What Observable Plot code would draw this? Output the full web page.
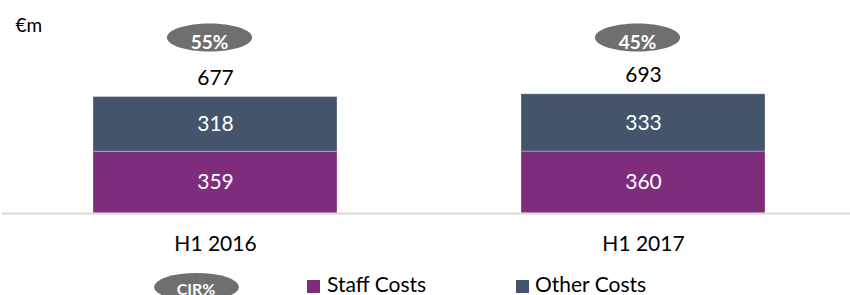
<!DOCTYPE html>
<html>
<head>
<meta charset="utf-8">
<script src="https://cdn.jsdelivr.net/npm/d3@7"></script>
<script src="https://cdn.jsdelivr.net/npm/@observablehq/plot@0.6"></script>
<style>
  body { margin: 0; background: #fff; font-family: Lato, "Open Sans", sans-serif; }
  #chart { width: 850px; }
</style>
</head>
<body>
<div id="chart"></div>
<script>
const periods = ["H1 2016", "H1 2017"];
const staffCosts = [359, 360];
const otherCosts = [318, 333];
const totals = [677, 693];
const cirLabels = ["55%", "45%"];
const seriesNames = ["Staff Costs", "Other Costs"];
const seriesColors = ["#7E2D7C", "#44546A"];
const unitLabel = "€m";
const cirLegend = "CIR%";

const rows = [];
periods.forEach((p, i) => {
  rows.push({period: p, series: seriesNames[0], value: staffCosts[i], mid: staffCosts[i] / 2});
  rows.push({period: p, series: seriesNames[1], value: otherCosts[i], mid: staffCosts[i] + otherCosts[i] / 2});
});
const totRows = periods.map((p, i) => ({period: p, total: totals[i]}));
const cirRows = periods.map((p, i) => ({period: p, cir: cirLabels[i]}));

const ellipse = {
  draw(ctx, size) {
    const r = Math.sqrt(size / Math.PI);
    const rx = r * 1.52, ry = r * 0.5, k = 0.5523;
    ctx.moveTo(rx, 0);
    ctx.bezierCurveTo(rx, ry * k, rx * k, ry, 0, ry);
    ctx.bezierCurveTo(-rx * k, ry, -rx, ry * k, -rx, 0);
    ctx.bezierCurveTo(-rx, -ry * k, -rx * k, -ry, 0, -ry);
    ctx.bezierCurveTo(rx * k, -ry, rx, -ry * k, rx, 0);
    ctx.closePath();
  }
};

const chart = Plot.plot({
  width: 850,
  height: 265,
  marginLeft: 9,
  marginRight: 0,
  marginTop: 41,
  marginBottom: 52,
  x: {domain: periods, paddingInner: 0.429, paddingOuter: 0.196, label: null},
  y: {domain: [0, 1000], axis: null},
  color: {domain: seriesNames, range: seriesColors},
  style: {fontFamily: "Lato, 'Open Sans', sans-serif", fontSize: "21px", color: "#000", background: "#fff"},
  marks: [
    Plot.barY(rows, {x: "period", y: "value", fill: "series", stroke: "#ffffff", strokeOpacity: 0.3, strokeWidth: 1}),
    Plot.ruleY([0], {stroke: "#d9d9d9", strokeWidth: 2, insetLeft: -7}),
    Plot.text(rows, {x: "period", y: "mid", text: d => String(d.value), fill: "white", fontSize: 21}),
    Plot.text(totRows, {x: "period", y: "total", text: d => String(d.total), dy: -19, fill: "#000", fontSize: 21}),
    Plot.dot(cirRows, {x: "period", frameAnchor: "top", dy: -4, dx: -6, r: 28, symbol: ellipse, fill: "#6f6f6f"}),
    Plot.text(cirRows, {x: "period", frameAnchor: "top", dy: -6, dx: -6, text: "cir", fill: "white", fontWeight: "bold", fontSize: 19}),
    Plot.axisX({tickSize: 0, tickPadding: 23, fontSize: 21, fill: "#000"}),
    Plot.text([unitLabel], {frameAnchor: "top-left", text: d => d, textAnchor: "start", dx: 6, dy: -23, fontSize: 19, fill: "#000"})
  ]
});
document.getElementById("chart").appendChild(chart);

// Legend below the chart
const legend = d3.create("svg")
  .attr("width", 850)
  .attr("height", 30)
  .style("display", "block")
  .style("font-family", "Lato, 'Open Sans', sans-serif");
legend.append("ellipse").attr("cx", 196.5).attr("cy", 22).attr("rx", 42.5).attr("ry", 14).attr("fill", "#6f6f6f");
legend.append("text").attr("x", 196).attr("y", 30).attr("text-anchor", "middle")
  .attr("fill", "white").attr("font-weight", "bold").attr("font-size", 16).text(cirLegend);
const legX = [{sq: 307, tx: 327}, {sq: 516, tx: 535}];
seriesNames.forEach((name, i) => {
  legend.append("rect").attr("x", legX[i].sq).attr("y", 15).attr("width", 13).attr("height", 13).attr("fill", seriesColors[i]);
  legend.append("text").attr("x", legX[i].tx).attr("y", 27).attr("font-size", 21).attr("fill", "#000").text(name);
});
document.getElementById("chart").appendChild(legend.node());
</script>
</body>
</html>
